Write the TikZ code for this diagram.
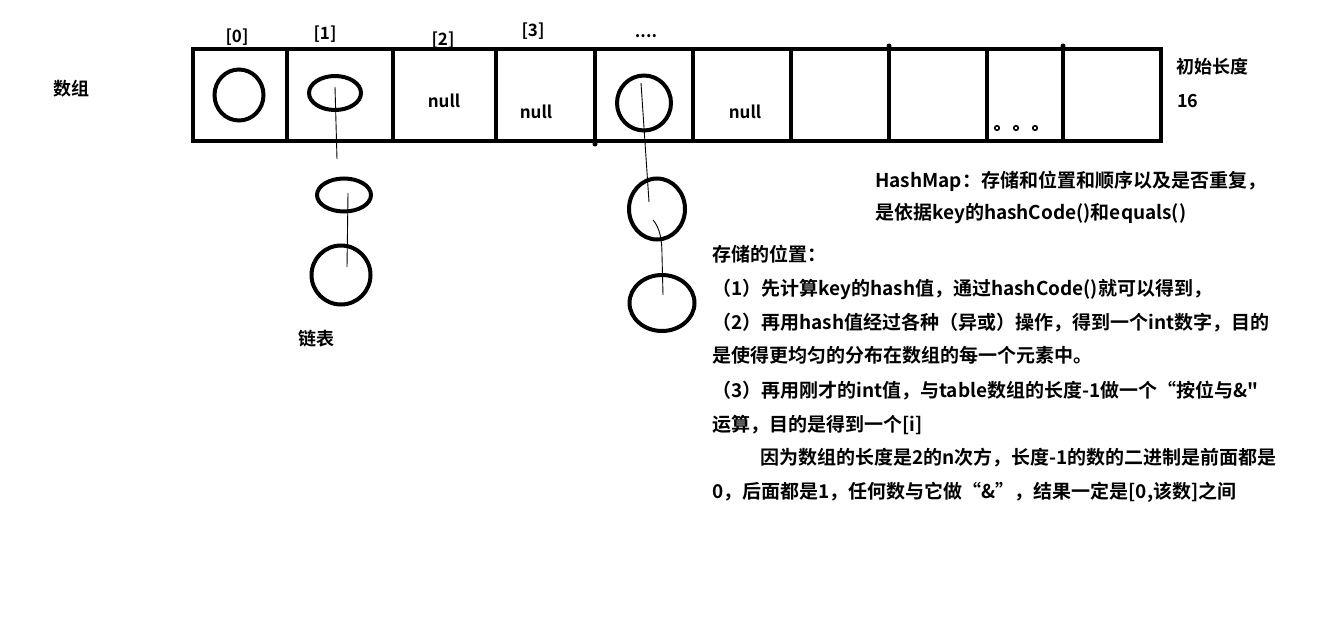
\documentclass[tikz,border=0pt]{standalone}
\usepackage{fontspec}
\setmainfont{Noto Sans CJK SC}[BoldFont={Noto Sans CJK SC Bold},Ligatures=TeXOff]
\usetikzlibrary{shapes.geometric}
\begin{document}
\begin{tikzpicture}[x=1pt,y=-1pt,
  thick line/.style={line width=4.5pt},
  ring/.style={ellipse,draw,line width=4pt,inner sep=0pt},
  link/.style={line width=0.9pt},
  txt/.style={anchor=base west,inner sep=0pt,font=\fontsize{19}{19}\selectfont\bfseries},
  lbl/.style={inner sep=0pt,font=\fontsize{17}{17}\selectfont\bfseries},
  dotmark/.style={circle,draw,line width=1.6pt,inner sep=0pt,minimum size=4.5pt}]
\useasboundingbox (0,0) rectangle (1324,623);
% array
\draw[thick line] (193,49) rectangle (1161,141);
\foreach \x in {287,393,496,595,693,791,889,987,1063}
  \draw[thick line] (\x,49) -- (\x,141);
\fill (889,46) circle (2.5);
\fill (1063,46) circle (2.5);
\fill (595,144) circle (2.5);
% index labels
\node[lbl] (i0) at (237,37) {[0]};
\node[lbl] (i1) at (325,34) {[1]};
\node[lbl] (i2) at (443,40) {[2]};
\node[lbl] (i3) at (533,31) {[3]};
\node[lbl] (i4) at (646,36) {....};
% cell contents
\node[ring,minimum width=49pt,minimum height=51pt] (c0) at (239,95) {};
\node[ring,minimum width=52pt,minimum height=34pt] (c1) at (335,93) {};
\node[lbl] (n2) at (444,101) {null};
\node[lbl] (n3) at (536,112) {null};
\node[ring,minimum width=54pt,minimum height=55pt] (c4) at (644,103) {};
\node[lbl] (n5) at (745,112) {null};
\node[dotmark] (d1) at (997,128) {};
\node[dotmark] (d2) at (1016,128) {};
\node[dotmark] (d3) at (1035,128) {};
% chain under [1]
\node[ring,minimum width=54pt,minimum height=33pt] (e2) at (344,195) {};
\node[ring,minimum width=59pt,minimum height=59pt] (e3) at (341,275) {};
\coordinate (p1) at (337,159);
\coordinate (p2) at (347,267);
\draw[link] ([yshift=6pt]c1.center) -- (p1);
\draw[link] ([xshift=4pt,yshift=2pt]e2.center) -- (p2);
% chain under ....
\node[ring,minimum width=56pt,minimum height=61pt] (f2) at (657,209) {};
\node[ring,minimum width=65pt,minimum height=56pt] (f3) at (662,303) {};
\coordinate (q1) at (649,202);
\coordinate (q2) at (653,220);
\coordinate (q3) at (663,295);
\draw[link] ([xshift=-3pt,yshift=20pt]c4.center) -- (q1);
\draw[link] (q2) .. controls (660,228) and (662,240) .. (662,255) -- (q3);
% side labels
\node[inner sep=0pt,font=\fontsize{18}{18}\selectfont\bfseries] (arr) at (71,89) {数组};
\node[inner sep=0pt,font=\fontsize{18}{18}\selectfont\bfseries] (lst) at (316,339) {链表};
\node[txt,font=\fontsize{18}{18}\selectfont\bfseries] (len1) at (1176,74) {初始长度};
\node[txt,font=\fontsize{18}{18}\selectfont\bfseries] (len2) at (1177,107) {16};
% text block
\node[txt] (t1) at (875,187) {HashMap：存储和位置和顺序以及是否重复，};
\node[txt] (t2) at (875,219) {是依据key的hashCode()和equals()};
\node[txt] (b1) at (712,261) {存储的位置：};
\node[txt] (b2) at (712,295) {（1）先计算key的hash值，通过hashCode()就可以得到，};
\node[txt] (b3) at (712,329) {（2）再用hash值经过各种（异或）操作，得到一个int数字，目的};
\node[txt] (b4) at (712,362) {是使得更均匀的分布在数组的每一个元素中。};
\node[txt] (b5) at (712,397) {（3）再用刚才的int值，与table数组的长度-1做一个“按位与\&\symbol{34}};
\node[txt] (b6) at (712,431) {运算，目的是得到一个[i]};
\node[txt] (b7) at (760,464) {因为数组的长度是2的n次方，长度-1的数的二进制是前面都是};
\node[txt] (b8) at (712,498) {0，后面都是1，任何数与它做“\&”，结果一定是[0,该数]之间};
\end{tikzpicture}
\end{document}
